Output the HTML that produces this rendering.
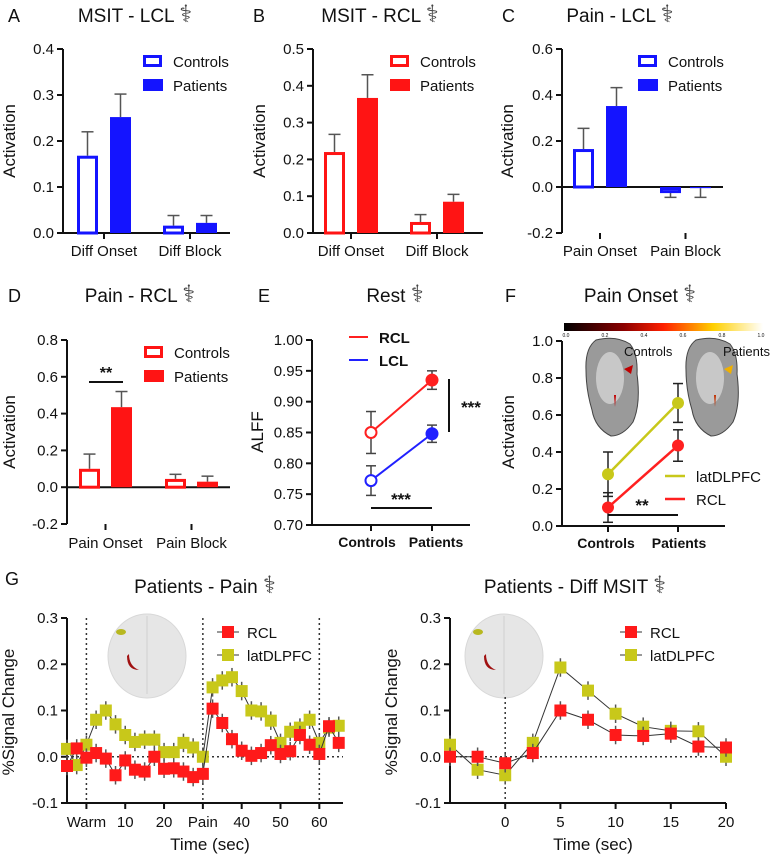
<!DOCTYPE html>
<html><head><meta charset="utf-8"><style>
body{margin:0;background:#fff;}
svg{display:block;font-family:"Liberation Sans",Arial,sans-serif;}
</style></head><body>
<svg id="fig" width="771" height="857" viewBox="0 0 771 857" xmlns="http://www.w3.org/2000/svg">
<defs>
<linearGradient id="heat" x1="0" x2="1"><stop offset="0" stop-color="#000"/><stop offset="0.3" stop-color="#8b0000"/><stop offset="0.5" stop-color="#ff2000"/><stop offset="0.75" stop-color="#ffd000"/><stop offset="1" stop-color="#fff"/></linearGradient>
</defs>
</svg>
<script>
// ---- bar data ----
const barCats=[["Diff Onset","Diff Block"],["Diff Onset","Diff Block"],["Pain Onset","Pain Block"],["Pain Onset","Pain Block"]];
const ctrlVals=[[0.168,0.016],[0.22,0.03],[0.165,-0.02],[0.1,0.045]];
const patVals=[[0.252,0.022],[0.367,0.085],[0.352,-0.005],[0.435,0.03]];
const ctrlErr=[[0.052,0.022],[0.048,0.02],[0.09,0.025],[0.08,0.025]];
const patErr=[[0.05,0.016],[0.063,0.02],[0.08,0.04],[0.085,0.03]];
const barTicks=[[0,0.1,0.2,0.3,0.4],[0,0.1,0.2,0.3,0.4,0.5],[-0.2,0,0.2,0.4,0.6],[-0.2,0,0.2,0.4,0.6,0.8]];
const barTickLabels=[["0.0","0.1","0.2","0.3","0.4"],["0.0","0.1","0.2","0.3","0.4","0.5"],["-0.2","0.0","0.2","0.4","0.6"],["-0.2","0.0","0.2","0.4","0.6","0.8"]];
// ---- panel E data ----
const eCats=["Controls","Patients"];
const eRCL=[0.85,0.935], eRCLerr=[0.034,0.015];
const eLCL=[0.772,0.848], eLCLerr=[0.024,0.014];
const eTicks=[0.70,0.75,0.80,0.85,0.90,0.95,1.00];
// ---- panel F data ----
const fLat=[0.28,0.665], fLatErr=[0.12,0.105];
const fRCL=[0.10,0.435], fRCLerr=[0.08,0.085];
const fTicks=[0,0.2,0.4,0.6,0.8,1.0];
// ---- panel G data ----
const gTimes=[-5,-2.5,0,2.5,5,7.5,10,12.5,15,17.5,20,22.5,25,27.5,30,32.5,35,37.5,40,42.5,45,47.5,50,52.5,55,57.5,60,62.5,65];
const gRCL=[-0.02,0.018,-0.002,0.008,-0.004,-0.04,-0.008,-0.028,-0.032,0,-0.026,-0.025,-0.032,-0.044,-0.037,0.104,0.073,0.038,0.013,0.002,0.008,0.025,0.006,0.012,0.047,0.026,0.006,0.066,0.03];
const gLat=[0.017,-0.018,0.026,0.08,0.1,0.07,0.047,0.032,0.037,0.037,0.01,0.01,0.03,0.02,0,0.15,0.165,0.172,0.142,0.1,0.098,0.078,0.03,0.054,0.063,0.08,0.03,0.063,0.067];
const hTimes=[-5,-2.5,0,2.5,5,7.5,10,12.5,15,17.5,20];
const hRCL=[0,0,-0.014,0.008,0.1,0.08,0.047,0.045,0.05,0.022,0.02];
const hLat=[0.026,-0.028,-0.04,0.03,0.193,0.143,0.093,0.065,0.056,0.055,0];
const gTicks=[-0.1,0,0.1,0.2,0.3];
const gTickLabels=["-0.1","0.0","0.1","0.2","0.3"];
const gXTicks=[0,10,20,30,40,50,60];
const gXLabels=["Warm","10","20","Pain","40","50","60"];
const hXTicks=[0,5,10,15,20];

const S=document.getElementById('fig');
const NS="http://www.w3.org/2000/svg";
function mk(tag,a,p){const e=document.createElementNS(NS,tag);for(const k in a)e.setAttribute(k,a[k]);(p||S).appendChild(e);return e;}
function txt(x,y,s,size,anchor,extra){const t=mk('text',Object.assign({x:x,y:y,'font-size':size,'text-anchor':anchor||'middle',fill:'#111'},extra||{}));t.textContent=s;return t;}
function lin(d0,d1,r0,r1){return v=>r0+(v-d0)*(r1-r0)/(d1-d0);}
function ln(x1,y1,x2,y2,c,w,extra){return mk('line',Object.assign({x1:x1,y1:y1,x2:x2,y2:y2,stroke:c||'#111','stroke-width':w||2},extra||{}));}
function title(x,y,s){const t=txt(x,y,s+" ",19);const ts=document.createElementNS(NS,'tspan');ts.setAttribute('font-size','24');ts.setAttribute('fill','#444');ts.textContent='\u2695';t.appendChild(ts);}
function letter(x,y,s){const t=txt(x,y,s,18,'start');}
function yAxis(ax,yTop,yBot,ticks,labels,y,size){
  const a=ln(ax,yTop,ax,yBot);
  ticks.forEach((v,i)=>{ln(ax-6,y(v),ax,y(v));const t=txt(ax-9,y(v)+5,labels[i],size||15,'end');});
}
function ylabel(x,y,s){const t=txt(x,y,s,17,'middle',{transform:`rotate(-90 ${x} ${y})`});}

// ---- bar panels ----
const bp=[
 {ax:63,top:49,y:lin(0,0.4,233,49),bot:233,xend:230,bx:[[77,110],[163,196]],col:'#1414ff',L:'A',lxx:8,ly0:22,tx:135,ty:22,title:'MSIT - LCL',lx:143,ly:61,ylx:15,yly:141,laby:256},
 {ax:313,top:49,y:lin(0,0.5,233,49),bot:233,xend:483,bx:[[324,357],[410,443]],col:'#ff1414',L:'B',lxx:253,ly0:22,tx:380,ty:22,title:'MSIT - RCL',lx:390,ly:61,ylx:265,yly:141,laby:256},
 {ax:562,top:49,y:lin(-0.2,0.6,233,49),bot:233,xend:723,bx:[[573,606],[660,690]],col:'#1414ff',L:'C',lxx:502,ly0:22,tx:620,ty:22,title:'Pain - LCL',lx:638,ly:61,ylx:513,yly:141,laby:256},
 {ax:67,top:340,y:lin(-0.2,0.8,524,340),bot:524,xend:230,bx:[[79,111],[165,197]],col:'#ff1414',L:'D',lxx:8,ly0:302,tx:140,ty:302,title:'Pain - RCL',lx:144,ly:352,ylx:15,yly:432,laby:548}
];
bp.forEach((p,k)=>{
  letter(p.lxx,p.ly0,p.L);title(p.tx,p.ty,p.title);
  yAxis(p.ax,p.top,p.bot,barTicks[k],barTickLabels[k],p.y,15);
  ylabel(p.ylx,p.yly,'Activation');
  const xa=ln(p.ax,p.y(0),p.xend,p.y(0));
  barCats[k].forEach((c,i)=>{
    const cx=(p.bx[i][0]+p.bx[i][1]+21)/2;
    [[ctrlVals,ctrlErr,p.bx[i][0],true],[patVals,patErr,p.bx[i][1],false]].forEach(([vals,errs,bl,hollow])=>{
      const v=vals[k][i],e=errs[k][i];const y0=p.y(0),y1=p.y(v);
      const ex=bl+10.5, ye=v>=0?p.y(v+e):p.y(v-e);
      ln(ex,y1,ex,ye,'#555',1.5);ln(ex-6,ye,ex+6,ye,'#555',1.5);
      const r=mk('rect',{x:hollow?bl+1.5:bl,y:Math.min(y0,y1)+(hollow?1.5:0),width:hollow?18:21,height:Math.max(1,Math.abs(y1-y0)-(hollow?1.5:0)),fill:hollow?'#fff':p.col,stroke:p.col,'stroke-width':hollow?3:0});
      
      
    });
    ln(cx,p.bot,cx,p.bot+6);
    const t=txt(cx,p.laby,c,15);
  });
  const h=mk('rect',{x:p.lx+1.5,y:p.ly-4.5,width:16,height:9,fill:'#fff',stroke:p.col,'stroke-width':3});
  
  const f=mk('rect',{x:p.lx,y:p.ly+18,width:20,height:12,fill:p.col});
  
  const t1=txt(p.lx+30,p.ly+6,'Controls',15,'start');
  const t2=txt(p.lx+30,p.ly+30,'Patients',15,'start');
});
// D significance
ln(89,382,123,382,'#111',2);{const t=txt(106,378,'**',16,'middle',{'font-weight':'bold'});}

// ---- panel E ----
letter(258,302,'E');title(395,302,'Rest');
{const y=lin(0.70,1.00,525,340);const xs=[371,432];
 yAxis(312,340,525,eTicks,eTicks.map(v=>v.toFixed(2)),y,15);
 ylabel(263,432,'ALFF');
 const xa=ln(312,525,470,525);
 eCats.forEach((c,i)=>{ln(xs[i],525,xs[i],531);const t=txt(xs[i]+(i?4:-4),547,c,14,'middle',{'font-weight':'bold'});});
 [[eRCL,eRCLerr,'#ff2020','rcl'],[eLCL,eLCLerr,'#2020ff','lcl']].forEach(([v,e,c,n])=>{
   v.forEach((val,i)=>{ln(xs[i],y(val-e[i]),xs[i],y(val+e[i]),'#444',1.5);ln(xs[i]-5,y(val-e[i]),xs[i]+5,y(val-e[i]),'#444',1.5);ln(xs[i]-5,y(val+e[i]),xs[i]+5,y(val+e[i]),'#444',1.5);});
   const l=ln(xs[0],y(v[0]),xs[1],y(v[1]),c,2);
   v.forEach((val,i)=>{const pt=mk('circle',{cx:xs[i],cy:y(val),r:5.5,fill:i?c:'#fff',stroke:c,'stroke-width':2});});
 });
 ln(349,337,368,337,'#ff2020',2);ln(349,360,368,360,'#2020ff',2);
 {const t=txt(379,343,'RCL',15,'start',{'font-weight':'bold'});}
 {const t=txt(379,366,'LCL',15,'start',{'font-weight':'bold'});}
 ln(449,379,449,432,'#111',2);{const t=txt(471,413,'***',17,'middle',{'font-weight':'bold'});}
 ln(371,508,432,508,'#111',2);{const t=txt(401,505,'***',17,'middle',{'font-weight':'bold'});}
}

// ---- panel F ----
letter(505,302,'F');title(640,302,'Pain Onset');
{const y=lin(0,1,526,341);const xs=[608,678];
 const cb=mk('rect',{x:564,y:323,width:199,height:8,fill:'url(#heat)'});
 ['0.0','0.2','0.4','0.6','0.8','1.0'].forEach((s,i)=>{txt(566+i*39,337,s,5);});
 [[588,'controls'],[688,'patients']].forEach(([bx,n])=>{
   const b=mk('path',{d:`M${bx+8} 340 q20 -5 34 4 q8 10 7 30 q4 30 -4 48 q-10 14 -22 14 q-16 -8 -19 -26 q-6 -20 -6 -40 q-1 -22 10 -30z`,fill:'#9a9a9a',stroke:'#444','stroke-width':1});
   
   mk('ellipse',{cx:bx+22,cy:378,rx:14,ry:26,fill:'#c8c8c8'});
 });
 mk('path',{d:'M624 369 l9 -4 l-2 9z',fill:'#c00000'});mk('path',{d:'M724 369 l9 -4 l-2 9z',fill:'#f0b000'});
 mk('path',{d:'M614 395 l2 0 l-1 12z',fill:'#c00000'});mk('path',{d:'M714 395 l2 0 l-1 12z',fill:'#c03000'});
 {const t=txt(624,356,'Controls',13,'start');}
 {const t=txt(723,356,'Patients',13,'start');}
 yAxis(562,341,526,fTicks,fTicks.map(v=>v.toFixed(1)),y,15);
 ylabel(514,432,'Activation');
 const xa=ln(562,526,725,526);
 eCats.forEach((c,i)=>{ln(xs[i],526,xs[i],532);const t=txt(xs[i]+(i?1:-2),548,c,14,'middle',{'font-weight':'bold'});});
 [[fLat,fLatErr,'#c8c81a','latdlpfc'],[fRCL,fRCLerr,'#ff2020','rcl']].forEach(([v,e,c,n])=>{
   v.forEach((val,i)=>{ln(xs[i],y(val-e[i]),xs[i],y(val+e[i]),'#222',1.5);ln(xs[i]-5,y(val-e[i]),xs[i]+5,y(val-e[i]),'#222',1.5);ln(xs[i]-5,y(val+e[i]),xs[i]+5,y(val+e[i]),'#222',1.5);});
   const l=ln(xs[0],y(v[0]),xs[1],y(v[1]),c,2.5);
   v.forEach((val,i)=>{const pt=mk('circle',{cx:xs[i],cy:y(val),r:6,fill:c});});
 });
 ln(665,476,685,476,'#c8c81a',2.5);ln(665,499,685,499,'#ff2020',2.5);
 {const t=txt(696,482,'latDLPFC',15,'start');}
 {const t=txt(696,505,'RCL',15,'start');}
 ln(608,515,678,515,'#111',2);{const t=txt(642,511,'**',17,'middle',{'font-weight':'bold'});}
}

// ---- panel G ----
letter(5,585,'G');
function brain(cx,cy,n){const b=mk('ellipse',{cx:cx,cy:cy,rx:39,ry:42,fill:'#e6e6e6',stroke:'#d8d8d8'});
  ln(cx,cy-40,cx,cy+38,'#d0d0d0',1);mk('ellipse',{cx:cx-26,cy:cy-24,rx:5,ry:3,fill:'#b8b820'});mk('path',{d:`M${cx-18} ${cy-2} q0 12 10 16 q-12 0 -12 -14z`,fill:'#a01010'});}
function tsPanel(o){
  const y=lin(-0.1,0.3,803,618);const x=lin(o.t0,o.t1,o.ax,o.xend);
  title(o.tx,593,o.title);
  brain(o.bx,656,'brain-render');
  o.vl.forEach(t=>{const d=ln(x(t),t===0&&o.right?697:618,x(t),803,'#333',1.5,{'stroke-dasharray':'2,3'});});
  ln(o.ax,y(0),o.xend,y(0),'#333',1.5,{'stroke-dasharray':'2,3'});
  yAxis(o.ax,618,803,gTicks,gTickLabels,y,15);
  ylabel(o.ax-53,712,'%Signal Change');
  const xa=ln(o.ax,803,o.xend,803);
  o.xt.forEach((t,i)=>{ln(x(t),803,x(t),809);const l=txt(x(t),827,o.xl[i],15);});
  {const t=txt((o.ax+o.xend)/2+5,850,'Time (sec)',17);}
  [[o.lat,'#c8c81a','latdlpfc'],[o.rcl,'#ff1a1a','rcl']].forEach(([v,c,n])=>{
    const pts=o.times.map((t,i)=>x(t)+','+y(v[i])).join(' ');
    const pl=mk('polyline',{points:pts,fill:'none',stroke:'#333','stroke-width':1});
    o.times.forEach((t,i)=>{ln(x(t),y(v[i]-0.02),x(t),y(v[i]+0.02),'#555',1.5);});
    o.times.forEach((t,i)=>{const r=mk('rect',{x:x(t)-6,y:y(v[i])-6,width:12,height:12,fill:c});});
  });
  const lx=o.lgx;
  ln(lx,632,lx+22,632,'#333',1);mk('rect',{x:lx+5,y:626,width:12,height:12,fill:'#ff1a1a'});
  ln(lx,655,lx+22,655,'#333',1);mk('rect',{x:lx+5,y:649,width:12,height:12,fill:'#c8c81a'});
  {const t=txt(lx+30,638,'RCL',15,'start');}
  {const t=txt(lx+30,661,'latDLPFC',15,'start');}
}
tsPanel({ax:67,xend:343,t0:-5,t1:66.1,times:gTimes,rcl:gRCL,lat:gLat,vl:[0,30,60],xt:gXTicks,xl:gXLabels,tx:205,title:'Patients - Pain',bx:147,lgx:217});
tsPanel({ax:450,xend:726,t0:-5,t1:20,times:hTimes,rcl:hRCL,lat:hLat,vl:[0],xt:hXTicks,xl:hXTicks.map(String),tx:575,title:'Patients - Diff MSIT',bx:504,lgx:620,right:true});
</script>
</body></html>
